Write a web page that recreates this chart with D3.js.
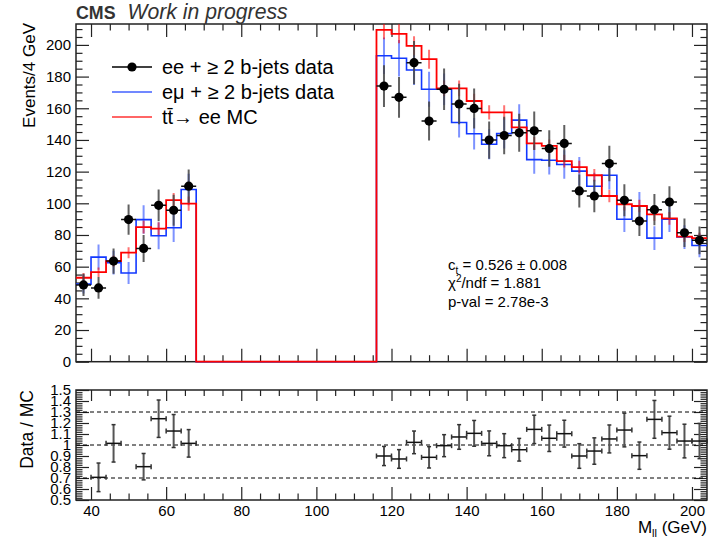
<!DOCTYPE html>
<html><head><meta charset="utf-8">
<script src="https://cdn.jsdelivr.net/npm/d3@7"></script>
<style>
body{margin:0;background:#fff}
svg{display:block}
text{font-family:"Liberation Sans",Arial,Helvetica,sans-serif;fill:#000}
</style>
</head><body>
<svg id="c" width="710" height="544"></svg>
<script>
// ---------- data ----------
const massCenters = [38,42,46,50,54,58,62,66,118,122,126,130,134,138,142,146,150,154,158,162,166,170,174,178,182,186,190,194,198,202];
const eeData  = [48.5,46.6,63.5,89.7,71.5,98.7,95.6,110.8,174,166.9,188.8,151.9,172,162.7,159.9,139.9,142.8,144.5,145.8,134.6,137.8,107.8,104.6,125.1,101.9,88.8,96,100.8,81.4,76.6];
const eeErr   = [7,6.8,8,9.5,8.5,10,9.8,10.5,13.2,12.9,13.7,12.3,13.1,12.8,12.6,11.8,11.9,12,12.1,11.6,11.7,10.4,10.2,11.2,10.1,9.4,9.8,10,9,8.8];
const emuData = [49,66,62.5,56,89.7,79.5,84.6,108.7,193.2,191.6,184.2,172,172,151,143.9,137.3,144.1,152.5,127.6,127.2,124.5,120.3,110.8,117.7,89.9,98.1,78,89.9,78.7,73.4];
const emuErr  = [6,8,7.5,7,9,8.5,9,10,11.5,11.5,9.5,11,10,9.5,10,9.5,9.5,10,9,9,9,9,8.5,9,8,9,7.5,8,7.5,7.5];
const mcTT    = [53,56.5,63.5,68.8,85,84,102,99.8,209.5,207,199.4,191,172.6,172.6,164.6,157.4,157.4,147.9,137.8,136.3,126.6,122.9,117.7,104.6,99.4,98.3,93,90.5,79,78];
const mcErr   = [3,3,3.5,3.5,4,4,4.5,4.5,6,6,6,6,5,5,4.5,4.5,4.5,4.5,4,4,4,4,4,4,4,4,4,4,3.5,3.5];

const ratioCenters = [42,46,54,58,62,66,118,122,126,130,134,138,142,146,150,154,158,162,166,170,174,178,182,186,190,194,198,202];
const ratioValues  = [0.706,1.015,0.803,1.239,1.127,1.015,0.90,0.873,1.024,0.888,0.994,1.073,1.106,1.015,0.994,0.957,1.142,1.061,1.103,0.90,0.945,1.055,1.136,0.903,1.233,1.112,1.036,1.036];
const ratioErr     = [0.13,0.17,0.12,0.17,0.15,0.125,0.087,0.085,0.103,0.097,0.1,0.112,0.117,0.113,0.109,0.103,0.129,0.12,0.122,0.112,0.12,0.127,0.153,0.124,0.172,0.15,0.153,0.16];

const yTicksMain  = [0,20,40,60,80,100,120,140,160,180,200];
const xTickLabels = [40,60,80,100,120,140,160,180,200];
const ratioTicks  = [0.5,0.6,0.7,0.8,0.9,1.0,1.1,1.2,1.3,1.4,1.5];
const refLines    = [0.7,1.0,1.3];
const legendLabels = ["ee + \u2265 2 b-jets data","e\u03bc + \u2265 2 b-jets data","t\u0074\u0304\u2192 ee MC"];
const fitLines = ["0.526 \u00b1 0.008","1.881","2.78e-3"];

// ---------- layout ----------
const L = 76, R = 707;
const topY0 = 24, topY1 = 361.7;
const botY0 = 390, botY1 = 500;
const binW = 4;

const svg = d3.select("#c");
const x = d3.scaleLinear().domain([36,204]).range([L,R]);
const y = d3.scaleLinear().domain([0,213.2]).range([topY1,topY0]);
const yr = d3.scaleLinear().domain([0.5,1.5]).range([botY1,botY0]);

const FRAME = "#222";
const RED = "#ff0000", BLUE = "#1238ff";

// ---------- axes helper ----------
function ticksAxis(g, axisFn, scale, major, minor, majLen, minLen, fmt, fontSize) {
  const a = axisFn(scale).tickValues(major).tickSize(-majLen).tickPadding(5)
    .tickFormat(fmt || "");
  g.append("g").call(a).call(s => {
    s.select(".domain").remove();
    s.selectAll("line").attr("stroke", FRAME).attr("stroke-width", 1.2);
    s.selectAll("text").attr("font-size", fontSize || 15).attr("font-family", "Liberation Sans, Arial, sans-serif").attr("fill","#000");
  });
  const b = axisFn(scale).tickValues(minor).tickSize(-minLen).tickFormat("");
  g.append("g").call(b).call(s => {
    s.select(".domain").remove();
    s.selectAll("line").attr("stroke", FRAME).attr("stroke-width", 1.2);
  });
}
const xMinor = d3.range(40, 205, 5).filter(v => v % 20 !== 0);
const yMinor = d3.range(0, 213, 5).filter(v => v % 20 !== 0);
const rMinor = d3.range(0.5, 1.5001, 0.02).filter(v => Math.abs(v*10 - Math.round(v*10)) > 1e-6);

// ---------- upper panel ----------
const up = svg.append("g");
ticksAxis(up.append("g").attr("transform",`translate(${L},0)`), d3.axisLeft, y, yTicksMain, yMinor, 13, 6.5, d => d, 15);
ticksAxis(up.append("g").attr("transform",`translate(${R},0)`), d3.axisRight, y, yTicksMain, yMinor, 13, 6.5, null);
ticksAxis(up.append("g").attr("transform",`translate(0,${topY1})`), d3.axisBottom, x, xTickLabels, xMinor, 13, 6.5, null);
ticksAxis(up.append("g").attr("transform",`translate(0,${topY0})`), d3.axisTop, x, xTickLabels, xMinor, 13, 6.5, null);

// frame first so histogram lines sit on top of it
up.append("rect").attr("x",L).attr("y",topY0).attr("width",R-L).attr("height",topY1-topY0)
  .attr("fill","none").attr("stroke",FRAME).attr("stroke-width",1.5);

// step histograms over full range, zero where there is no bin
const fullCenters = d3.range(38, 204, binW);
function stepPoints(vals) {
  const m = new Map(massCenters.map((c,i) => [c, vals[i]]));
  const pts = [];
  fullCenters.forEach(c => {
    const v = m.has(c) ? m.get(c) : 0;
    pts.push([c - binW/2, v], [c + binW/2, v]);
  });
  return pts;
}
const line = d3.line().x(d => x(d[0])).y(d => y(d[1]));
svg.append("defs").append("clipPath").attr("id","cp").append("rect")
  .attr("x",L).attr("y",topY0).attr("width",R-L).attr("height",topY1-topY0+3);
const plot = up.append("g").attr("clip-path","url(#cp)");

// blue
plot.append("path").attr("d", line(stepPoints(emuData))).attr("fill","none")
  .attr("stroke", BLUE).attr("stroke-width",1.6);
plot.selectAll(".be").data(massCenters).enter().append("line")
  .attr("x1", c => x(c)).attr("x2", c => x(c))
  .attr("y1", (c,i) => y(emuData[i]-emuErr[i])).attr("y2", (c,i) => y(emuData[i]+emuErr[i]))
  .attr("stroke", BLUE).attr("stroke-opacity",0.55).attr("stroke-width",2);
// red
plot.append("path").attr("d", line(stepPoints(mcTT))).attr("fill","none")
  .attr("stroke", RED).attr("stroke-width",1.8);
plot.selectAll(".re").data(massCenters).enter().append("line")
  .attr("x1", c => x(c)).attr("x2", c => x(c))
  .attr("y1", (c,i) => y(mcTT[i]-mcErr[i])).attr("y2", (c,i) => y(mcTT[i]+mcErr[i]))
  .attr("stroke", RED).attr("stroke-opacity",0.55).attr("stroke-width",2);

// data points
const dg = plot.append("g");
dg.selectAll(".dv").data(massCenters).enter().append("line")
  .attr("x1", c => x(c)).attr("x2", c => x(c))
  .attr("y1", (c,i) => y(eeData[i]-eeErr[i])).attr("y2", (c,i) => y(eeData[i]+eeErr[i]))
  .attr("stroke","#444").attr("stroke-opacity",0.85).attr("stroke-width",2);
dg.selectAll(".dh").data(massCenters).enter().append("line")
  .attr("x1", c => x(c-binW/2)).attr("x2", c => x(c+binW/2))
  .attr("y1", (c,i) => y(eeData[i])).attr("y2", (c,i) => y(eeData[i]))
  .attr("stroke","#111").attr("stroke-width",1.5);
dg.selectAll(".dc").data(massCenters).enter().append("circle")
  .attr("cx", c => x(c)).attr("cy", (c,i) => y(eeData[i])).attr("r",4.6).attr("fill","#000");

// title
const t = svg.append("text").attr("x",L).attr("y",19);
t.append("tspan").attr("font-weight","bold").attr("font-size",17.8).attr("fill","#333").text("CMS");
t.append("tspan").attr("dx",12).attr("font-style","italic").attr("font-size",21.2).attr("fill","#333").text("Work in progress");

// y title
svg.append("text").attr("transform","translate(35,23) rotate(-90)").attr("text-anchor","end")
  .attr("font-size",17).text("Events/4 GeV");

// legend
const legY = [67, 92, 117];
const lg = svg.append("g");
lg.append("line").attr("x1",112).attr("x2",152).attr("y1",legY[0]).attr("y2",legY[0]).attr("stroke","#000").attr("stroke-width",1.3);
lg.append("circle").attr("cx",132).attr("cy",legY[0]).attr("r",4.6).attr("fill","#000");
lg.append("line").attr("x1",112).attr("x2",152).attr("y1",legY[1]).attr("y2",legY[1]).attr("stroke",BLUE).attr("stroke-opacity",0.6).attr("stroke-width",2);
lg.append("line").attr("x1",112).attr("x2",152).attr("y1",legY[2]).attr("y2",legY[2]).attr("stroke",RED).attr("stroke-opacity",0.6).attr("stroke-width",2);
legendLabels.forEach((s,i) => {
  lg.append("text").attr("x",162).attr("y",legY[i]+7).attr("font-size",20).text(s);
});

// fit info
const fx = 448;
const f1 = svg.append("text").attr("x",fx).attr("y",270).attr("font-size",15);
f1.append("tspan").text("c");
f1.append("tspan").attr("font-size",10).attr("dy",4).text("t");
f1.append("tspan").attr("dy",-4).text(" = " + fitLines[0]);
const f2 = svg.append("text").attr("x",fx).attr("y",288).attr("font-size",15);
f2.append("tspan").text("\u03c7");
f2.append("tspan").attr("font-size",10).attr("dy",-6).text("2");
f2.append("tspan").attr("dy",6).text("/ndf = " + fitLines[1]);
svg.append("text").attr("x",fx).attr("y",307).attr("font-size",15).text("p-val = " + fitLines[2]);

// ---------- ratio panel ----------
const lo = svg.append("g");
ticksAxis(lo.append("g").attr("transform",`translate(${L},0)`), d3.axisLeft, yr, ratioTicks, rMinor, 13, 6.5, d => +d.toFixed(1), 15);
ticksAxis(lo.append("g").attr("transform",`translate(${R},0)`), d3.axisRight, yr, ratioTicks, rMinor, 13, 6.5, null);
ticksAxis(lo.append("g").attr("transform",`translate(0,${botY1})`), d3.axisBottom, x, xTickLabels, xMinor, 13, 6.5, d => d, 15);
ticksAxis(lo.append("g").attr("transform",`translate(0,${botY0})`), d3.axisTop, x, xTickLabels, xMinor, 11, 6, null);

lo.selectAll(".ref").data(refLines).enter().append("line")
  .attr("x1",L).attr("x2",R).attr("y1",d => yr(d)).attr("y2",d => yr(d))
  .attr("stroke","#000").attr("stroke-width",1).attr("stroke-dasharray","4,3");

const rg = lo.append("g").attr("stroke","#333").attr("stroke-width",1.5);
ratioCenters.forEach((c,i) => {
  const cx = x(c), cy = yr(ratioValues[i]);
  const y1 = yr(ratioValues[i]+ratioErr[i]), y2 = yr(ratioValues[i]-ratioErr[i]);
  const xa = x(c-binW/2), xb = x(c+binW/2);
  rg.append("line").attr("x1",cx).attr("x2",cx).attr("y1",y1).attr("y2",y2).attr("stroke","#555").attr("stroke-width",2);
  rg.append("line").attr("x1",xa).attr("x2",xb).attr("y1",cy).attr("y2",cy).attr("stroke","#111");
  rg.append("line").attr("x1",cx-2).attr("x2",cx+2).attr("y1",y1).attr("y2",y1);
  rg.append("line").attr("x1",cx-2).attr("x2",cx+2).attr("y1",y2).attr("y2",y2);
  rg.append("line").attr("x1",xa).attr("x2",xa).attr("y1",cy-2.5).attr("y2",cy+2.5);
  rg.append("line").attr("x1",xb).attr("x2",xb).attr("y1",cy-2.5).attr("y2",cy+2.5);
});

lo.append("rect").attr("x",L).attr("y",botY0).attr("width",R-L).attr("height",botY1-botY0)
  .attr("fill","none").attr("stroke",FRAME).attr("stroke-width",1.5);

svg.append("text").attr("transform","translate(33,390) rotate(-90)").attr("text-anchor","end")
  .attr("font-size",17.5).text("Data / MC");

const xt = svg.append("text").attr("x",R).attr("y",533).attr("text-anchor","end").attr("font-size",17);
xt.append("tspan").text("M");
xt.append("tspan").attr("font-size",11).attr("dy",4).text("ll");
xt.append("tspan").attr("dy",-4).text(" (GeV)");
</script>
</body></html>
